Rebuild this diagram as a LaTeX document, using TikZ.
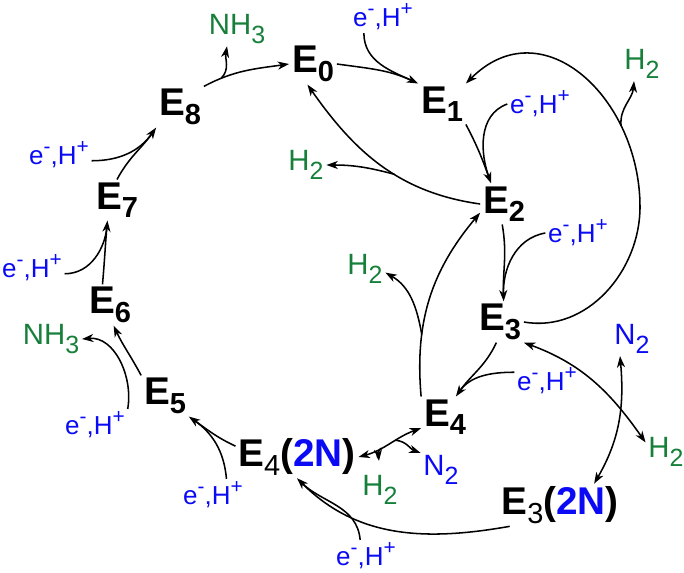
\documentclass[tikz,border=0pt]{standalone}
\usepackage{graphicx}
\usepackage{fontspec}
\setmainfont{Liberation Sans}
\usetikzlibrary{arrows.meta}
\definecolor{gasgreen}{RGB}{22,128,58}
\definecolor{eblue}{RGB}{10,10,245}
\newcommand{\sbs}[1]{\raisebox{-.22em}{\scalebox{.75}{#1}}}
\newcommand{\gsb}[1]{\raisebox{-.28em}{\scalebox{.85}{#1}}}
\newcommand{\sps}[1]{\raisebox{.42em}{\scalebox{.8}{#1}}}
\newcommand{\ehp}{e\sps{-},H\sps{+}}
\tikzset{species/.style = {font=\fontsize{29}{30}\selectfont\bfseries, inner sep=2pt}}
\tikzset{gas/.style = {font=\fontsize{22}{23}\selectfont, text=gasgreen, inner sep=2pt}}
\tikzset{ehp/.style = {font=\fontsize{19.5}{20}\selectfont, text=eblue, inner sep=2pt}}
\tikzset{rxn/.style = {-{Stealth[length=8.5pt,width=6pt,inset=2.5pt]}, line width=1.15pt}}
\tikzset{rxnb/.style = {{Stealth[length=8.5pt,width=6pt,inset=2.5pt]}-{Stealth[length=8.5pt,width=6pt,inset=2.5pt]}, line width=1.15pt}}
\tikzset{side/.style = {line width=1.15pt, shorten >=5pt}}

\begin{document}
\begin{tikzpicture}[x=0.75pt, y=0.75pt]
  \useasboundingbox (0,0) rectangle (684,-573);
  % E states
  \node [species] (E0) at (313,-64) {E\sbs{0}};
  \node [species] (E1) at (442,-104) {E\sbs{1}};
  \node [species] (E2) at (504,-204) {E\sbs{2}};
  \node [species] (E3) at (500,-322) {E\sbs{3}};
  \node [species] (E4) at (445,-417) {E\sbs{4}};
  \node [species] (E5) at (165,-396) {E\sbs{5}};
  \node [species] (E6) at (110,-305) {E\sbs{6}};
  \node [species] (E7) at (117,-200) {E\sbs{7}};
  \node [species] (E8) at (180,-107) {E\sbs{8}};
  \node [species] (E3N) at (560,-505) {E\sbs{\mdseries 3}(\textcolor{eblue}{2N})};
  \node [species] (E4N) at (297,-457) {E\sbs{\mdseries 4}(\textcolor{eblue}{2N})};
  % gases
  \node [gas] (NH3a) at (237,-29) {NH\gsb{3}};
  \node [gas] (NH3b) at (51,-339) {NH\gsb{3}};
  \node [gas] (H2b) at (306,-165) {H\gsb{2}};
  \node [gas] (H2c) at (642,-64) {H\gsb{2}};
  \node [gas] (H2d) at (365,-269) {H\gsb{2}};
  \node [gas] (H2e) at (380,-490) {H\gsb{2}};
  \node [gas] (H2f) at (666,-452) {H\gsb{2}};
  \node [gas, text=eblue] (N2e) at (441,-470) {N\gsb{2}};
  \node [gas, text=eblue] (N2r) at (632,-339) {N\gsb{2}};
  % electrons and protons
  \node [ehp] (eh0) at (383,-17) {\ehp};
  \node [ehp] (eh1) at (540,-104) {\ehp};
  \node [ehp] (eh2) at (578,-233) {\ehp};
  \node [ehp] (eh3) at (547,-381) {\ehp};
  \node [ehp] (eh4) at (366,-556) {\ehp};
  \node [ehp] (eh5) at (213,-495) {\ehp};
  \node [ehp] (eh6) at (95,-425) {\ehp};
  \node [ehp] (eh7) at (32,-268) {\ehp};
  \node [ehp] (eh8) at (59,-155) {\ehp};
  \coordinate (lp) at (640,-207);

  \draw [rxn] (E8.north east) to[out=28, in=188] coordinate[pos=.2] (c80) (E0.west);
  \draw [rxn] (c80) to[out=45, in=-100] (NH3a.-120);
  \draw [rxn] (E0.east) to[out=-8, in=155] (E1.north west);
  \draw [side] (eh0.-140) to[out=-90, in=155] (E1.north west);
  \draw [rxn] (E1.south east) to[out=-62, in=110] (E2.122);
  \draw [side] (eh1.west) to[out=200, in=110] (E2.122);
  \draw [rxn] (E2.west) to[out=172, in=-55] coordinate[pos=.42] (c20) (E0.-105);
  \draw [rxn] (c20) to[out=165, in=0] (H2b.east);
  \draw [rxn] (E2.-95) to[out=-80, in=92] (E3.80);
  \draw [side] (eh2.west) to[out=190, in=92] (E3.80);
  \draw [rxn] (E3.east) to[out=-10, in=-90] (lp)
    to[out=90, in=45, looseness=1.3] coordinate[pos=.27] (c31) (E1.north east);
  \draw [rxn] (c31) to[out=95, in=-95] (H2c.-115);
  \draw [rxn] (E3.-100) to[out=-115, in=55] (E4.62);
  \draw [side] (eh3.165) to[out=180, in=55] (E4.62);
  \draw [rxn] (E4.north west) to[out=95, in=-130] coordinate[pos=.3] (c42) (E2.200);
  \draw [rxn] (c42) to[out=100, in=-30] (H2d.-10);
  \draw [rxnb] (E4.205) to[out=200, in=15] coordinate[pos=.4] (c44) coordinate[pos=.65] (c45) (E4N.east);
  \draw [rxn] (c44) to[out=-5, in=160] (N2e.north west);
  \draw [rxn, shorten >=9pt] (c45) to[out=215, in=95] (H2e.north);
  \draw [rxnb] (E3.south east) to[out=-20, in=125] (H2f.155);
  \draw [rxnb] (N2r.-125) to[out=-85, in=60] (E3N.32);
  \draw [rxn] (E3N.-157) to[out=190, in=-45] (E4N.south);
  \draw [side] (eh4.110) to[out=95, in=-45] (E4N.south);
  \draw [rxn] (E4N.170) to[out=155, in=-35] (E5.south east);
  \draw [side] (eh5.50) to[out=95, in=-35] (E5.south east);
  \draw [rxn] (E5.north west) to[out=118, in=-65] (E6.-80);
  \draw [rxn] (eh6.north east) to[out=80, in=5] (NH3b.east);
  \draw [rxn] (E6.110) to[out=85, in=-95] (E7.-115);
  \draw [side] (eh7.-10) to[out=0, in=-95] (E7.-115);
  \draw [rxn] (E7.north) to[out=62, in=-125] (E8.south west);
  \draw [side] (eh8.-10) to[out=0, in=-125] (E8.south west);
\end{tikzpicture}
\end{document}
